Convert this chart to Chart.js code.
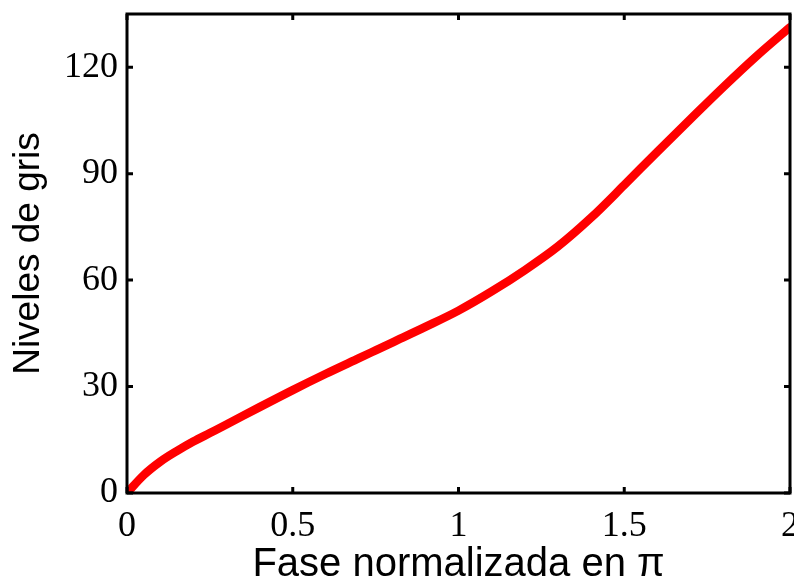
<!DOCTYPE html>
<html>
<head>
<meta charset="utf-8">
<script src="https://cdn.jsdelivr.net/npm/chart.js@4/dist/chart.umd.min.js"></script>
<style>
html,body{margin:0;padding:0;background:#fff;}
#wrap{width:794px;height:585px;}
</style>
</head>
<body>
<div id="wrap"><canvas id="c" width="794" height="585"></canvas></div>
<script>
const phaseX = [0, 0.05, 0.1, 0.15, 0.2, 0.25, 0.3, 0.4, 0.5, 0.6, 0.7, 0.75, 0.8, 0.9, 1.0, 1.1, 1.2, 1.3, 1.4, 1.5, 1.6, 1.7, 1.8, 1.9, 2.0];
const grayY  = [0, 5, 8.8, 11.8, 14.5, 16.9, 19.3, 24.2, 29, 33.6, 38.0, 40.2, 42.4, 46.8, 51.4, 56.8, 62.8, 69.5, 77.6, 86.8, 96.2, 105.4, 114.5, 123.2, 131.3];
const xTicks = [0, 0.5, 1, 1.5, 2];
const xTickLabels = ["0", "0.5", "1", "1.5", "2"];
const yTicks = [0, 30, 60, 90, 120];
const yTickLabels = ["0", "30", "60", "90", "120"];
const xTitle = "Fase normalizada en \u03c0";
const yTitle = "Niveles de gris";

const points = phaseX.map((x, i) => ({x: x, y: grayY[i]}));

const framePlugin = {
  id: 'frame',
  afterDatasetsDraw(chart) {
    const ctx = chart.ctx, a = chart.chartArea;
    const xs = chart.scales.x, ys = chart.scales.y;
    ctx.save();
    ctx.strokeStyle = '#000';
    ctx.lineWidth = 3;
    ctx.strokeRect(a.left, a.top, a.right - a.left, a.bottom - a.top);
    const tl = 6;
    xTicks.forEach(v => {
      const px = xs.getPixelForValue(v);
      ctx.beginPath();
      ctx.moveTo(px, a.bottom); ctx.lineTo(px, a.bottom - tl);
      ctx.moveTo(px, a.top); ctx.lineTo(px, a.top + tl);
      ctx.stroke();
    });
    yTicks.forEach(v => {
      const py = ys.getPixelForValue(v);
      ctx.beginPath();
      ctx.moveTo(a.left, py); ctx.lineTo(a.left + tl, py);
      ctx.moveTo(a.right, py); ctx.lineTo(a.right - tl, py);
      ctx.stroke();
    });
    ctx.restore();
  }
};

new Chart(document.getElementById('c'), {
  type: 'line',
  data: {
    datasets: [{
      data: points,
      borderColor: '#ff0000',
      borderWidth: 8.5,
      pointRadius: 0,
      fill: false,
      cubicInterpolationMode: 'monotone',
      borderCapStyle: 'round'
    }]
  },
  options: {
    responsive: false,
    animation: false,
    devicePixelRatio: 1,
    layout: { padding: { top: 14, right: 4, left: 0, bottom: 0 } },
    plugins: { legend: { display: false }, tooltip: { enabled: false } },
    scales: {
      x: {
        type: 'linear',
        min: 0, max: 2,
        grid: { display: false, drawTicks: false },
        border: { display: false },
        afterBuildTicks(s) { s.ticks = xTicks.map(v => ({value: v})); },
        afterFit(s) { s.height = 92; s.paddingLeft = 0; s.paddingRight = 0; },
        ticks: {
          padding: 12,
          maxRotation: 0,
          autoSkip: false,
          color: '#000',
          font: { family: 'Liberation Serif', size: 36 },
          callback(v) { const i = xTicks.indexOf(v); return i >= 0 ? xTickLabels[i] : ''; }
        },
        title: {
          display: true,
          text: xTitle,
          color: '#000',
          font: { family: 'Liberation Sans', size: 40, lineHeight: 1 },
          padding: { top: 0, bottom: 0 }
        }
      },
      y: {
        type: 'linear',
        min: 0, max: 135,
        grid: { display: false, drawTicks: false },
        border: { display: false },
        afterBuildTicks(s) { s.ticks = yTicks.map(v => ({value: v})); },
        afterFit(s) { s.width = 127; s.paddingTop = 0; s.paddingBottom = 0; },
        ticks: {
          padding: 9,
          autoSkip: false,
          color: '#000',
          font: { family: 'Liberation Serif', size: 36 },
          callback(v) { const i = yTicks.indexOf(v); return i >= 0 ? yTickLabels[i] : ''; }
        },
        title: {
          display: true,
          text: yTitle,
          color: '#000',
          font: { family: 'Liberation Sans', size: 37, lineHeight: 1 },
          padding: { top: 10, bottom: 0 }
        }
      }
    }
  },
  plugins: [framePlugin]
});
</script>
</body>
</html>
